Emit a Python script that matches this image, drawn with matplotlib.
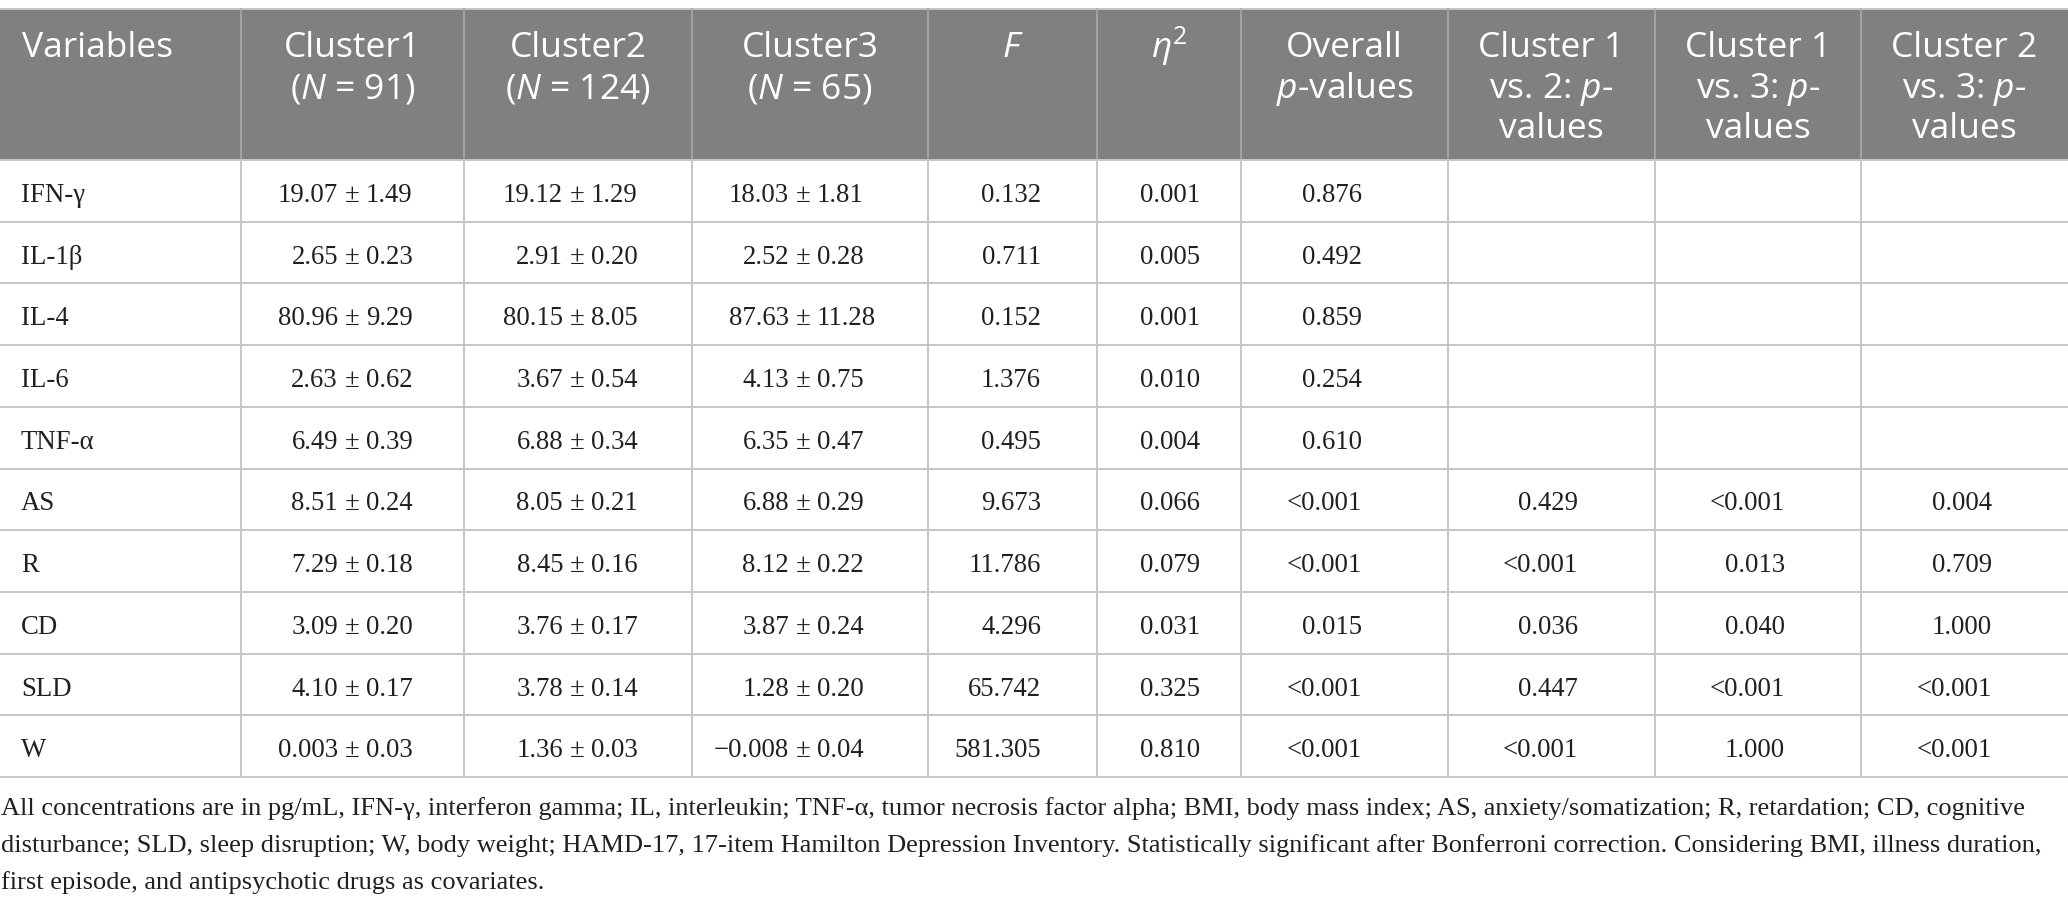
import matplotlib
matplotlib.use("Agg")
import matplotlib.pyplot as plt
from matplotlib.patches import Rectangle

plt.rcParams['mathtext.fontset'] = 'custom'
plt.rcParams['mathtext.rm'] = 'Open Sans'
plt.rcParams['mathtext.it'] = 'Open Sans:italic'

# table content
variables = ['IFN-γ', 'IL-1β', 'IL-4', 'IL-6', 'TNF-α', 'AS', 'R', 'CD', 'SLD', 'W']
c1_mean = ['19.07', '2.65', '80.96', '2.63', '6.49', '8.51', '7.29', '3.09', '4.10', '0.003']
c1_sd = ['1.49', '0.23', '9.29', '0.62', '0.39', '0.24', '0.18', '0.20', '0.17', '0.03']
c2_mean = ['19.12', '2.91', '80.15', '3.67', '6.88', '8.05', '8.45', '3.76', '3.78', '1.36']
c2_sd = ['1.29', '0.20', '8.05', '0.54', '0.34', '0.21', '0.16', '0.17', '0.14', '0.03']
c3_mean = ['18.03', '2.52', '87.63', '4.13', '6.35', '6.88', '8.12', '3.87', '1.28', '\u22120.008']
c3_sd = ['1.81', '0.28', '11.28', '0.75', '0.47', '0.29', '0.22', '0.24', '0.20', '0.04']
f_vals = ['0.132', '0.711', '0.152', '1.376', '0.495', '9.673', '11.786', '4.296', '65.742', '581.305']
eta2 = ['0.001', '0.005', '0.001', '0.010', '0.004', '0.066', '0.079', '0.031', '0.325', '0.810']
p_overall = ['0.876', '0.492', '0.859', '0.254', '0.610', '<0.001', '<0.001', '0.015', '<0.001', '<0.001']
p_1v2 = ['', '', '', '', '', '0.429', '<0.001', '0.036', '0.447', '<0.001']
p_1v3 = ['', '', '', '', '', '<0.001', '0.013', '0.040', '<0.001', '1.000']
p_2v3 = ['', '', '', '', '', '0.004', '0.709', '1.000', '<0.001', '<0.001']

headers = [
    ['Variables'],
    ['Cluster1', '($N$ = 91)'],
    ['Cluster2', '($N$ = 124)'],
    ['Cluster3', '($N$ = 65)'],
    ['$F$'],
    [r'$\eta^{2}$'],
    ['Overall', '$p$-values'],
    ['Cluster 1', 'vs. 2: $p$-', 'values'],
    ['Cluster 1', 'vs. 3: $p$-', 'values'],
    ['Cluster 2', 'vs. 3: $p$-', 'values'],
]

footnote = [
    'All concentrations are in pg/mL, IFN-γ, interferon gamma; IL, interleukin; TNF-α, tumor necrosis factor alpha; '
    'BMI, body mass index; AS, anxiety/somatization; R, retardation; CD, cognitive',
    'disturbance; SLD, sleep disruption; W, body weight; HAMD-17, 17-item Hamilton Depression Inventory. '
    'Statistically significant after Bonferroni correction. Considering BMI, illness duration,',
    'first episode, and antipsychotic drugs as covariates.',
]

# layout in pixels
W, H = 2068, 908
col_edges = [0, 241, 464, 692, 928, 1097, 1241, 1448, 1655, 1861, 2068]
head_top, head_bot = 9, 160
row_h = 61.7
n_rows = len(variables)
tab_bot = head_bot + n_rows * row_h

fig = plt.figure(figsize=(W / 100, H / 100), dpi=100)
ax = fig.add_axes([0, 0, 1, 1])
ax.set_xlim(0, W)
ax.set_ylim(H, 0)
ax.axis('off')

head_col = '#7f807f'
line_col = '#c6c6c6'
txt_col = '#231f20'
sans = 'Open Sans'
serif = 'Liberation Serif'

ax.add_patch(Rectangle((0, head_top), W, head_bot - head_top, facecolor=head_col, edgecolor='none'))
ax.plot([0, W], [head_top, head_top], color=line_col, lw=1.4)
for i in range(n_rows + 1):
    y = head_bot + i * row_h
    ax.plot([0, W], [y, y], color=line_col, lw=1.4)
for x in col_edges[1:-1]:
    ax.plot([x, x], [head_top, head_bot], color='#a9a9a9', lw=1.2)
    ax.plot([x, x], [head_bot, tab_bot], color=line_col, lw=1.4)

# header text
baselines = [57, 98, 138]
for j, lines in enumerate(headers):
    for k, s in enumerate(lines):
        if j == 0:
            ax.text(22, baselines[k], s, ha='left', va='baseline', color='white',
                    family=sans, fontsize=25.5)
        else:
            xc = (col_edges[j] + col_edges[j + 1]) / 2
            ax.text(xc, baselines[k], s, ha='center', va='baseline', color='white',
                    family=sans, fontsize=25.5)

# body
fs = 19.3
pm_x = [352, 577, 803]
right_x = [1041, 1200, 1362, 1578, 1785, 1992]
for i in range(n_rows):
    yb = head_bot + i * row_h + 42
    ax.text(21, yb, variables[i], ha='left', va='baseline', family=serif, fontsize=fs, color=txt_col)
    for px, m, sd in zip(pm_x, [c1_mean, c2_mean, c3_mean], [c1_sd, c2_sd, c3_sd]):
        ax.text(px - 14, yb, m[i], ha='right', va='baseline', family=serif, fontsize=fs, color=txt_col)
        ax.text(px, yb, '±', ha='center', va='baseline', family=serif, fontsize=fs, color=txt_col)
        ax.text(px + 14, yb, sd[i], ha='left', va='baseline', family=serif, fontsize=fs, color=txt_col)
    for rx, col in zip(right_x, [f_vals, eta2, p_overall, p_1v2, p_1v3, p_2v3]):
        ax.text(rx, yb, col[i], ha='right', va='baseline', family=serif, fontsize=fs, color=txt_col)

for k, s in enumerate(footnote):
    ax.text(1, 815 + k * 37, s, ha='left', va='baseline', family=serif, fontsize=19.0, color=txt_col)

fig.savefig('out.png', dpi=100)
